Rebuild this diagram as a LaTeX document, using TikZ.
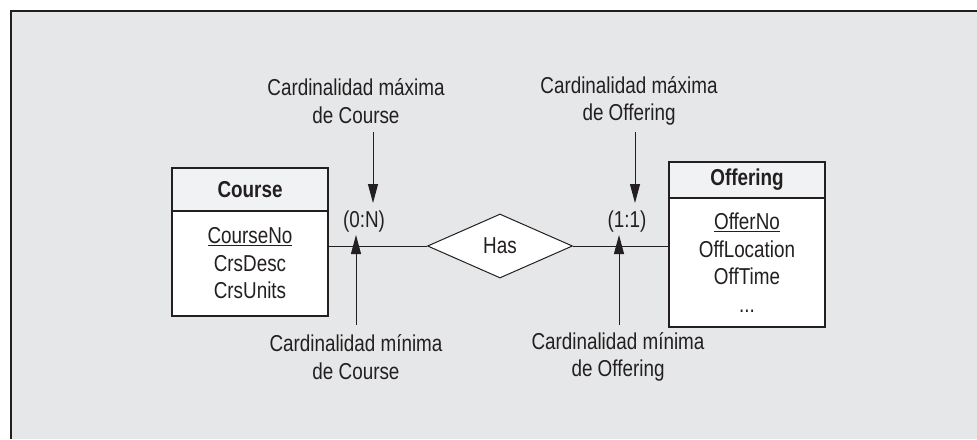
\documentclass[tikz,border=0pt]{standalone}
\usepackage{fontspec}
\setmainfont{Liberation Sans}[FakeStretch=0.82]
\usetikzlibrary{shapes.geometric,arrows.meta}

\definecolor{panel}{HTML}{E6E7E8}
\definecolor{headfill}{HTML}{F1F2F3}
\definecolor{ink}{HTML}{231F20}

\begin{document}
\begin{tikzpicture}[x=1pt, y=-1pt,
  every node/.style={font=\fontsize{23}{27.5}\selectfont, text=ink},
  enthead/.style={draw=ink, line width=1.2pt, fill=headfill, minimum width=156pt, inner sep=0pt, font=\fontsize{23}{27.5}\selectfont\bfseries},
  entbody/.style={draw=ink, line width=1.2pt, fill=white, minimum width=156pt, inner sep=0pt, align=center},
  rel/.style={diamond, draw=ink, line width=1pt, fill=white, aspect=2.25, minimum width=145pt, minimum height=64pt, inner sep=0pt},
  link/.style={draw=ink, line width=1pt},
  pointer/.style={draw=ink, line width=1pt, -{Triangle[length=19pt, width=10pt]}},
  note/.style={align=center}]

\useasboundingbox (0,0) rectangle (977,439);
\fill[panel] (11,11) rectangle (977,439);
\draw[ink, line width=2pt] (11,439) -- (11,11) -- (977,11);

% entities
\node[enthead, minimum height=43pt] (coursehead) at (250,189.5) {Course};
\node[entbody, minimum height=105pt] (course) at (250,263.5) {\underline{CourseNo}\\CrsDesc\\CrsUnits};
\node[enthead, minimum height=36pt] (offerhead) at (747,180) {Offering};
\node[entbody, minimum height=129pt] (offer) at (747,262.5) {\underline{OfferNo}\\OffLocation\\OffTime\\...};

% relationship
\node[rel] (has) at (500,246) {Has};
\draw[link] (has.west) -- (has.west -| course.east);
\draw[link] (has.east) -- (has.east -| offer.west);

% cardinalities
\node (cardcourse) at (364,222) {(0:N)};
\node (cardoffer) at (627,222) {(1:1)};

% explanations
\node[note] (maxcourse) at (356,101) {Cardinalidad máxima\\de Course};
\node[note] (mincourse) at (356,357) {Cardinalidad mínima\\de Course};
\node[note] (maxoffer) at (629,101) {Cardinalidad máxima\\de Offering};
\node[note] (minoffer) at (618,357) {Cardinalidad mínima\\de Offering};

\coordinate (maxcoursetip) at (373,203);
\coordinate (mincoursetip) at (356,235);
\coordinate (maxoffertip) at (635,203);
\coordinate (minoffertip) at (619,235);

\draw[pointer] (maxcoursetip |- 0,132) -- (maxcoursetip);
\draw[pointer] (mincoursetip |- 0,325) -- (mincoursetip);
\draw[pointer] (maxoffertip |- 0,132) -- (maxoffertip);
\draw[pointer] (minoffertip |- 0,325) -- (minoffertip);

\end{tikzpicture}
\end{document}
